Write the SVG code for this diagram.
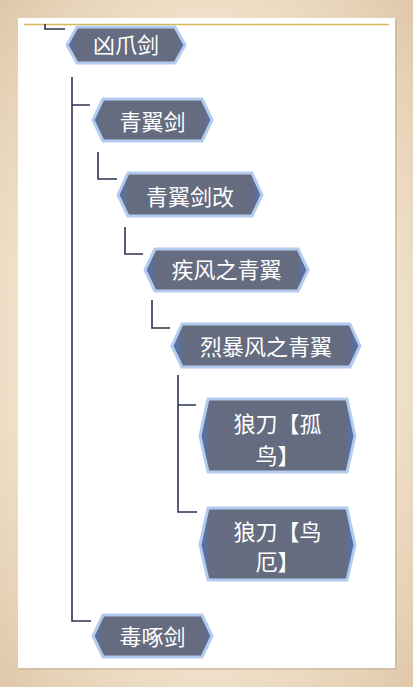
<svg xmlns="http://www.w3.org/2000/svg" width="413" height="687" viewBox="0 0 413 687">
<defs>
<style>
.node{fill:url(#ng);stroke:#b3cbef;stroke-width:3;stroke-linejoin:round}
.lbl{fill:#ffffff;font-family:"Noto Sans CJK SC","Noto Sans",sans-serif;font-size:22px;text-anchor:middle}
.conn{fill:none;stroke:#2b3450;stroke-width:1.6}
</style>
<linearGradient id="ng" x1="0" y1="0" x2="1" y2="0">
<stop offset="0" stop-color="#4d74b6"/>
<stop offset="0.07" stop-color="#666c80"/>
<stop offset="0.93" stop-color="#666c80"/>
<stop offset="1" stop-color="#4d74b6"/>
</linearGradient>
<radialGradient id="bg" cx="0.5" cy="0.5" r="0.75">
<stop offset="0.6" stop-color="#f0e2cc"/>
<stop offset="1" stop-color="#dcc3a2"/>
</radialGradient>
</defs>
<rect x="0" y="0" width="413" height="687" fill="url(#bg)"/>
<rect x="19" y="19" width="378" height="651" fill="#c9b597" opacity="0.6"/>
<rect x="18" y="18" width="377" height="650" fill="#ffffff"/>
<line x1="24" y1="24.5" x2="389" y2="24.5" stroke="#d9b85a" stroke-width="1.5"/>
<g id="connectors">
<path class="conn" d="M45,24 V29 H65"/>
<path class="conn" d="M72,77 V621 H91 M72,105 H90"/>
<path class="conn" d="M98,152 V179 H117"/>
<path class="conn" d="M125,227 V254 H143"/>
<path class="conn" d="M152,300 V328 H170"/>
<path class="conn" d="M178,375 V512 H197 M178,405 H196"/>
</g>
<g id="n1">
<path class="node" d="M67,45 L77,27 H175 L185,45 L175,63 H77 Z"/>
<text class="lbl" x="126" y="53">凶爪剑</text>
</g>
<g id="n2">
<path class="node" d="M93,120 L103,99 H202 L212,120 L202,141 H103 Z"/>
<text class="lbl" x="152.5" y="129.5">青翼剑</text>
</g>
<g id="n3">
<path class="node" d="M118,195 L128,173 H252 L262,195 L252,216 H128 Z"/>
<text class="lbl" x="190" y="204.5">青翼剑改</text>
</g>
<g id="n4">
<path class="node" d="M145,270 L155,249 H298 L308,270 L298,291 H155 Z"/>
<text class="lbl" x="226.5" y="278">疾风之青翼</text>
</g>
<g id="n5">
<path class="node" d="M172,346 L182,324 H350 L360,346 L350,367 H182 Z"/>
<text class="lbl" x="266" y="354.5">烈暴风之青翼</text>
</g>
<g id="n6">
<path class="node" d="M200,436 L208,399 H347 L355,436 L347,472 H208 Z"/>
<text class="lbl" x="277.5" y="432">狼刀【孤</text>
<text class="lbl" x="277.5" y="463.5">鸟】</text>
</g>
<g id="n7">
<path class="node" d="M200,545 L208,508 H347 L355,545 L347,580 H208 Z"/>
<text class="lbl" x="277.5" y="540">狼刀【鸟</text>
<text class="lbl" x="277.5" y="570">厄】</text>
</g>
<g id="n8">
<path class="node" d="M93,636 L103,615 H202 L212,636 L202,657 H103 Z"/>
<text class="lbl" x="152.5" y="645">毒啄剑</text>
</g>
</svg>
